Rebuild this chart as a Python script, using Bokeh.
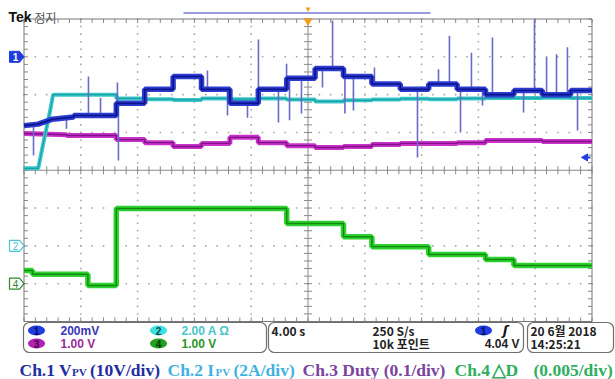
import numpy as np
from bokeh.plotting import figure
from bokeh.models import Range1d
from bokeh.core.properties import value
from bokeh.embed import file_html
from bokeh.resources import INLINE

# ---------------- data: time in s (4 s/div), trace level in screen divisions ----------------
step_edges = [6.5, 8.5, 10.5, 12.5, 14.5, 16.5, 18.5, 20.5, 22.5, 24.5, 26.5,
              28.5, 30.5, 32.5, 34.5, 36.5, 38.5, 40.0]

ch1_start_t = [0.0, 1.0, 2.0, 3.5]
ch1_start_v = [1.18, 1.22, 1.35, 1.41]
ch1_levels = [1.45, 1.77, 2.14, 2.48, 2.14, 1.77, 2.14, 2.43, 2.69, 2.48, 2.28,
              2.14, 2.28, 2.14, 2.00, 2.11, 2.00, 2.11]

ch2_start_t = [0.0, 1.0, 1.35, 1.8, 2.05]
ch2_start_v = [0.05, 0.05, 0.70, 1.50, 2.00]
ch2_levels = [2.00, 1.90, 1.88, 1.86, 1.90, 1.88, 1.90, 1.87, 1.82, 1.85, 1.87,
              1.89, 1.88, 1.90, 1.91, 1.91, 1.92, 1.91]

ch3_start_t = [0.0, 3.0]
ch3_start_v = [0.97, 0.94]
ch3_levels = [0.92, 0.81, 0.73, 0.63, 0.71, 0.87, 0.73, 0.65, 0.60, 0.63, 0.68,
              0.71, 0.71, 0.73, 0.79, 0.79, 0.76, 0.76]

ch4_start_t = [0.0]
ch4_start_v = [-2.65]
ch4_edges = [0.6, 4.5, 6.5, 18.5, 22.5, 24.5, 28.5, 32.5, 34.5, 40.0]
ch4_levels = [-2.65, -2.75, -3.05, -1.01, -1.41, -1.76, -2.02, -2.23, -2.36, -2.52]

spike_t = [0.67, 2.99, 4.54, 5.39, 6.58, 6.65, 12.92, 14.33, 15.74, 16.51, 17.92,
           18.49, 18.70, 19.54, 21.02, 21.73, 22.60, 23.20, 24.68, 27.71, 29.19,
           29.96, 30.74, 31.51, 32.29, 32.99, 35.18, 35.95, 36.80, 37.50, 38.27, 38.98]
spike_tip = [0.39, 1.10, 2.48, 1.92, 2.32, 0.26, 2.64, 1.45, 1.39, 3.46, 1.26,
             2.82, 1.32, 1.50, 2.19, 3.96, 1.50, 1.58, 2.72, 0.34, 2.67,
             3.56, 1.00, 3.11, 1.71, 3.51, 1.53, 3.99, 2.99, 3.07, 3.25, 1.05]

ch1_ground, ch2_ground, ch4_ground, trig_level = 3.0, -2.0, -3.0, 0.34


def stepped(t0, v0, edges, levels):
    xs, ys = list(t0), list(v0)
    left = t0[-1]
    for right, lv in zip(edges, levels):
        xs += [left, right]
        ys += [lv, lv]
        left = right
    return xs, ys


# ---------------- layout helpers (reference pixel -> data) ----------------
X0, XS = 23.5, 14.2      # px of t=0, px per second
Y0, YS = 169.75, 37.81   # px of level 0, px per division
W, H = 615, 379


def tx(px):
    return (px - X0) / XS


def ty(py):
    return (Y0 - py) / YS


p = figure(width=W, height=H, output_backend="svg", toolbar_location=None,
           x_range=Range1d(tx(0), tx(W)), y_range=Range1d(ty(H), ty(0)),
           x_axis_location=None, y_axis_location=None, min_border=0,
           outline_line_color=None, background_fill_color="white",
           border_fill_color="white")
p.grid.visible = False

# ---------------- graticule ----------------
major_t = np.arange(0, 40.01, 4.0)
major_v = np.arange(-4, 4.01, 1.0)
minor_t = np.arange(0, 40.01, 0.8)
minor_v = np.arange(-4, 4.01, 0.2)
dx, dy = [], []
for t in major_t[1:-1]:
    if abs(t - 20) > 1e-6:
        dx += [t] * len(minor_v)
        dy += list(minor_v)
for v in major_v[1:-1]:
    if abs(v) > 1e-6:
        dx += list(minor_t)
        dy += [v] * len(minor_t)
p.scatter(dx, dy, marker="square", size=1.6, fill_color="#a8a8a8", line_color=None)

gc = "#8a8a8a"
p.segment(x0=[0, 20], y0=[0, -4], x1=[40, 20], y1=[0, 4], line_color=gc, line_width=1)
tl_v = 4 / YS
tl_t = 4 / XS
p.segment(x0=minor_t, y0=[-tl_v] * len(minor_t), x1=minor_t, y1=[tl_v] * len(minor_t),
          line_color=gc, line_width=1)
p.segment(x0=[20 - tl_t] * len(minor_v), y0=minor_v, x1=[20 + tl_t] * len(minor_v), y1=minor_v,
          line_color=gc, line_width=1)
# edge ticks
p.segment(x0=minor_t, y0=[4] * len(minor_t), x1=minor_t, y1=[4 - tl_v] * len(minor_t),
          line_color=gc, line_width=1)
p.segment(x0=minor_t, y0=[-4] * len(minor_t), x1=minor_t, y1=[-4 + tl_v] * len(minor_t),
          line_color=gc, line_width=1)
p.segment(x0=[0] * len(minor_v), y0=minor_v, x1=[tl_t] * len(minor_v), y1=minor_v,
          line_color=gc, line_width=1)
p.segment(x0=[40] * len(minor_v), y0=minor_v, x1=[40 - tl_t] * len(minor_v), y1=minor_v,
          line_color=gc, line_width=1)
p.quad(left=[0], right=[40], bottom=[-4], top=[4], fill_alpha=0, line_color="#777777",
       line_width=1)

# ---------------- traces ----------------
c4x, c4y = stepped(ch4_start_t, ch4_start_v, ch4_edges, ch4_levels)
p.line(c4x, c4y, line_color="#2ed22e", line_width=5.5)
p.line(c4x, c4y, line_color="#128a12", line_width=1.4)

c3x, c3y = stepped(ch3_start_t, ch3_start_v, step_edges, ch3_levels)
p.line(c3x, c3y, line_color="#c832c8", line_width=5)
p.line(c3x, c3y, line_color="#80108a", line_width=1.4)

c2x, c2y = stepped(ch2_start_t, ch2_start_v, step_edges, ch2_levels)
p.line(c2x, c2y, line_color="#3cc8c8", line_width=4)
p.line(c2x, c2y, line_color="#17a0a6", line_width=1.2)

c1x, c1y = stepped(ch1_start_t, ch1_start_v, step_edges, ch1_levels)
spike_base = np.interp(spike_t, c1x, c1y)
p.segment(x0=spike_t, y0=spike_base, x1=spike_t, y1=spike_tip, line_color="#6a6ac8",
          line_width=1.6)
p.line(c1x, c1y, line_color="#2c3cd0", line_width=5.5)
p.line(c1x, c1y, line_color="#0a128c", line_width=1.6)

# ---------------- scope decorations ----------------
def pent(py_c, px_l=9, px_r=23.5):
    h = 5.5
    xs = [tx(px_l), tx(px_r - 4.5), tx(px_r), tx(px_r - 4.5), tx(px_l)]
    ys = [ty(py_c - h), ty(py_c - h), ty(py_c), ty(py_c + h), ty(py_c + h)]
    return xs, ys


def ypx(v):
    return Y0 - v * YS


mx, my = pent(ypx(ch1_ground))
p.patch(mx, my, fill_color="#1e3ce0", line_color="#1e3ce0")
p.text([tx(15)], [ch1_ground], text=["1"], text_color="white", text_font=value("Liberation Sans"),
       text_font_style="bold", text_font_size="10px", text_align="center", text_baseline="middle")
mx, my = pent(ypx(ch2_ground))
p.patch(mx, my, fill_color="white", line_color="#48c4d4", line_width=1.2)
p.text([tx(15)], [ch2_ground], text=["2"], text_color="#48c4d4", text_font=value("Liberation Sans"),
       text_font_size="10px", text_align="center", text_baseline="middle")
mx, my = pent(ypx(ch4_ground))
p.patch(mx, my, fill_color="white", line_color="#2a8a2a", line_width=1.2)
p.text([tx(15)], [ch4_ground], text=["4"], text_color="#2a8a2a", text_font=value("Liberation Sans"),
       text_font_size="10px", text_align="center", text_baseline="middle")

# trigger level arrow at right
p.segment(x0=[tx(585)], y0=[trig_level], x1=[tx(590)], y1=[trig_level], line_color="#2040e0",
          line_width=2)
p.scatter([tx(585)], [trig_level], marker="triangle", angle=np.pi / 2, size=7,
          fill_color="#2040e0", line_color="#2040e0")

# record bar and trigger position
p.segment(x0=[tx(183)], y0=[ty(12.5)], x1=[tx(430)], y1=[ty(12.5)], line_color="#9a9ae0",
          line_width=2)
p.scatter([20.0], [ty(8.5)], marker="inverted_triangle", size=5, fill_color="#f0a020",
          line_color=None)
p.scatter([20.0], [ty(20.5)], marker="inverted_triangle", size=9, fill_color="#f0a020",
          line_color=None)

# header
p.text([tx(8)], [ty(16)], text=["Tek"], text_color="#111111", text_font=value("Liberation Sans"),
       text_font_style="bold", text_font_size="14px", text_baseline="alphabetic")
p.text([tx(34)], [ty(16.5)], text=["정지"], text_color="#555555",
       text_font=value("Noto Sans CJK KR"), text_font_size="12px", text_baseline="alphabetic")

# status boxes
p.quad(left=[tx(23), tx(268), tx(527)], right=[tx(266), tx(523), tx(613)],
       top=[ty(322), ty(322), ty(322)], bottom=[ty(352), ty(352), ty(352)],
       fill_color="white", line_color="#6e6e6e", line_width=1.2, border_radius=6)

r1, r2 = ty(330), ty(343)
p.ellipse([tx(36), tx(36), tx(158), tx(158), tx(483)], [r1, r2, r1, r2, r1],
          width=17, height=10, width_units="screen", height_units="screen",
          fill_color=["#1e3ce0", "#b022b0", "#3ee0e0", "#22a022", "#1e3ce0"], line_color=None)
p.text([tx(36), tx(36), tx(158), tx(158), tx(483)], [r1, r2, r1, r2, r1],
       text=["1", "3", "2", "4", "1"],
       text_color=["#0a0a60", "#4a004a", "#0a4a4a", "#003a00", "#0a0a60"],
       text_font=value("Liberation Sans"), text_font_style="bold", text_font_size="10px",
       text_align="center", text_baseline="middle")

sfont = value("Liberation Sans")
p.text([tx(60), tx(60), tx(181), tx(181)], [r1, r2, r1, r2],
       text=["200mV", "1.00 V", "2.00 A  Ω", "1.00 V"],
       text_color=["#3535b8", "#9a2a9a", "#45c6cc", "#2a962a"],
       text_font=sfont, text_font_style="bold", text_font_size="12px", text_baseline="middle")
p.text([tx(271), tx(372), tx(530), tx(530)], [r1, r1, r1, r2],
       text=["4.00 s", "250 S/s", "20 6월  2018", "14:25:21"],
       text_color="#222222", text_font=value("Noto Sans CJK KR"), text_font_style="bold",
       text_font_size="12px", text_baseline="middle")
p.text([tx(372)], [r2], text=["10k 포인트"], text_color="#222222",
       text_font=value("Noto Sans CJK KR"), text_font_style="bold", text_font_size="12px",
       text_baseline="middle")
p.text([tx(519)], [r2], text=["4.04 V"], text_color="#222222", text_font=sfont,
       text_font_style="bold", text_font_size="12px", text_baseline="middle", text_align="right")
p.text([tx(505)], [r1], text=["ʃ"], text_color="#111111", text_font=value("DejaVu Sans"),
       text_font_style="bold italic", text_font_size="13px", text_baseline="middle",
       text_align="center")

# caption
cb = ty(369)
serif = value("Liberation Serif")
cap_x = [tx(19), tx(89.5), tx(167), tx(233), tx(302), tx(454), tx(491), tx(533)]
cap_text = ["Ch.1 V", "(10V/div)", "Ch.2 I", "(2A/div)", "Ch.3 Duty (0.1/div)",
            "Ch.4", "△D", "(0.005/div)"]
cap_col = ["#1e2e9e", "#1e2e9e", "#3fb2e2", "#3fb2e2", "#7a449e", "#2eae5e", "#2eae5e",
           "#2eae5e"]
p.text(cap_x, [cb] * len(cap_x), text=cap_text, text_color=cap_col, text_font=serif,
       text_font_style="bold", text_font_size="17.5px", text_baseline="alphabetic")
p.text([tx(71.5), tx(215)], [ty(371.5)] * 2, text=["PV", "PV"], text_color=["#1e2e9e", "#3fb2e2"],
       text_font=serif, text_font_style="bold", text_font_size="11px", text_baseline="alphabetic")

open("out.html", "w").write(file_html(p, INLINE))
